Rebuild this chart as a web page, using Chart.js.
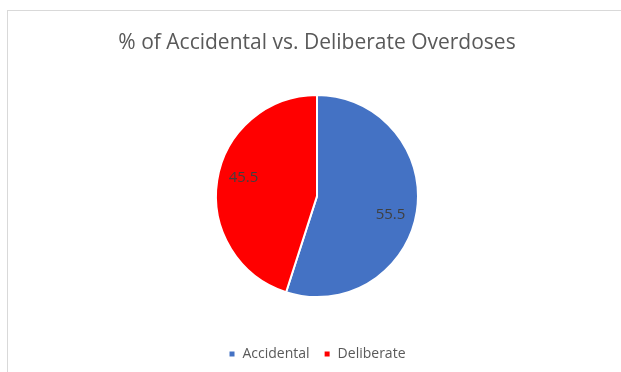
<!DOCTYPE html>
<html>
<head>
<meta charset="utf-8">
<script src="https://cdn.jsdelivr.net/npm/chart.js@4"></script>
<style>
  html, body { margin: 0; padding: 0; background: #fff; overflow: hidden; }
  #frame { position: absolute; left: 7px; top: 10px; width: 700px; height: 500px; border: 1px solid #d9d9d9; }
  #wrap { position: absolute; left: 0; top: 0; width: 621px; height: 372px; }
</style>
</head>
<body>
<div id="frame"></div>
<div id="wrap"><canvas id="myChart" width="621" height="372"></canvas></div>
<script>
const labels = ['Accidental', 'Deliberate'];
const values = [55.5, 45.5];
const colors = ['#4472C4', '#FF0000'];

// draw value labels inside each slice (nudged a bit clockwise like Excel's best fit)
const sliceLabels = {
    id: 'sliceLabels',
    afterDatasetsDraw(chart) {
        const ctx = chart.ctx;
        const meta = chart.getDatasetMeta(0);
        ctx.save();
        ctx.font = '15px "Open Sans", sans-serif';
        ctx.fillStyle = '#404040';
        ctx.textAlign = 'center';
        ctx.textBaseline = 'middle';
        meta.data.forEach((arc, i) => {
            const mid = (arc.startAngle + arc.endAngle) / 2 + 0.09;
            const r = arc.outerRadius * 0.75;
            const x = arc.x + Math.cos(mid) * r;
            const y = arc.y + Math.sin(mid) * r;
            ctx.fillText(String(values[i]), x, y);
        });
        ctx.restore();
    }
};

var ctx = document.getElementById('myChart').getContext('2d');
var myChart = new Chart(ctx, {
    type: 'pie',
    data: {
        labels: labels,
        datasets: [{
            data: values,
            backgroundColor: colors,
            borderColor: '#ffffff',
            borderWidth: 2,
            radius: 101
        }]
    },
    options: {
        responsive: false,
        animation: false,
        layout: { padding: { left: 13, right: 0, top: 0, bottom: 1 } },
        plugins: {
            title: {
                display: true,
                text: '% of Accidental vs. Deliberate Overdoses',
                color: '#595959',
                font: { family: '"Open Sans", sans-serif', size: 21, weight: 'normal' },
                padding: { top: 30, bottom: 4 }
            },
            legend: {
                position: 'bottom',
                labels: {
                    color: '#595959',
                    font: { family: '"Open Sans", sans-serif', size: 14 },
                    boxWidth: 7,
                    boxHeight: 7,
                    padding: 14
                }
            },
            tooltip: { enabled: false }
        }
    },
    plugins: [sliceLabels]
});
</script>
</body>
</html>
